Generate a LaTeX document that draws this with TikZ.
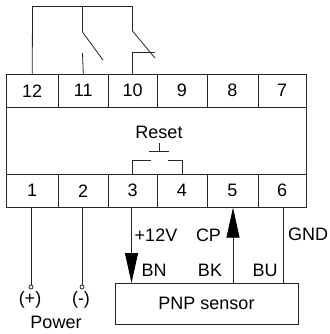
\documentclass[tikz,border=0pt]{standalone}
\usepackage{fontspec}
\setmainfont{Liberation Sans}
\usetikzlibrary{arrows.meta}
\tikzset{
  cell/.style={draw, minimum height=33pt, inner sep=0pt},
  wire/.style={line width=.8pt, draw=black!85},
  label/.style={inner sep=0pt},
  tip/.style={-{Triangle[length=30pt, width=13pt, color=black]}},
  port/.style={draw, circle, fill=white, minimum size=4pt, inner sep=0pt}
}
\begin{document}
\begin{tikzpicture}[x=1pt, y=-1pt, font=\fontsize{18}{20}\selectfont, line width=.8pt, draw=black!85]
  \useasboundingbox (0, 0) rectangle (329, 334);
  \node[cell, minimum width=300pt, minimum height=67pt] (body) at (156.5, 140.5) {};
  \node[cell, minimum width=51.5pt] (t12) at (32.25, 90.75) {12};
  \node[cell, minimum width=50.5pt] (t11) at (83.25, 90.75) {11};
  \node[cell, minimum width=48.5pt] (t10) at (132.75, 90.75) {10};
  \node[cell, minimum width=50pt] (t9) at (182, 90.75) {9};
  \node[cell, minimum width=51pt] (t8) at (232.5, 90.75) {8};
  \node[cell, minimum width=48.5pt] (t7) at (282.25, 90.75) {7};
  \node[cell, minimum width=51.5pt] (t1) at (32.25, 190.75) {1};
  \node[cell, minimum width=50.5pt] (t2) at (83.25, 190.75) {2};
  \node[cell, minimum width=48.5pt] (t3) at (132.75, 190.75) {3};
  \node[cell, minimum width=50pt] (t4) at (182, 190.75) {4};
  \node[cell, minimum width=51pt] (t5) at (232.5, 190.75) {5};
  \node[cell, minimum width=48.5pt] (t6) at (282.25, 190.75) {6};
  \node[cell, minimum width=183pt, minimum height=41.5pt] (sensor) at (206.5, 303.75) {PNP sensor};
  % relay contacts
  \coordinate (rail12) at (32.5, 6.5);
  \coordinate (rail11) at (82.5, 6.5);
  \coordinate (rail10) at (132.5, 6.5);
  \coordinate (hinge11) at (82.5, 32);
  \coordinate (blade11) at (103, 60);
  \coordinate (fixed11) at (82.5, 53);
  \coordinate (hinge10) at (132.5, 31);
  \coordinate (blade10) at (155, 58);
  \coordinate (stop10) at (155, 52.5);
  \draw[wire] (t12.north) -- (rail12) -- (rail10);
  \draw[wire] (rail11) -- (hinge11) -- (blade11);
  \draw[wire] (t11.north) -- (fixed11);
  \draw[wire] (rail10) -- (hinge10) -- (blade10);
  \draw[wire] (t10.north) -- (t10.north |- stop10) -- (stop10);
  % reset button
  \node[label] (reset) at (159, 132) {Reset};
  \coordinate (stem) at (159.3, 143);
  \coordinate (barl) at (149, 151);
  \coordinate (barr) at (169, 151);
  \coordinate (padl) at (151, 160);
  \coordinate (padr) at (167.7, 160);
  \draw[wire] (stem) -- (stem |- barl);
  \draw[wire] (barl) -- (barr);
  \draw[wire] (t3.north) -- (t3.north |- padl) -- (padl);
  \draw[wire] (t4.north) -- (t4.north |- padr) -- (padr);
  % power and sensor leads
  \node[port] (plus) at (31, 287) {};
  \node[port] (minus) at (82, 287) {};
  \coordinate (bn) at (131.5, 283);
  \coordinate (bk) at (233, 283);
  \coordinate (bu) at (283.7, 283);
  \draw[wire] (plus) -- (plus |- t1.south);
  \draw[wire] (minus) -- (minus |- t2.south);
  \draw[wire, tip] (bn |- t3.south) -- (bn);
  \draw[wire, tip] (bk) -- (bk |- t5.south);
  \draw[wire] (bu |- t6.south) -- (bu);
  \node[label] (lplus) at (30, 300) {(+)};
  \node[label] (lminus) at (81, 300) {(-)};
  \node[label] (power) at (56, 322) {Power};
  \node[label] (v12) at (156, 235) {+12V};
  \node[label] (cp) at (208.5, 235) {CP};
  \node[label] (gnd) at (308, 234) {GND};
  \node[label] (lbn) at (154, 270) {BN};
  \node[label] (lbk) at (210, 270) {BK};
  \node[label] (lbu) at (265, 270) {BU};
\end{tikzpicture}
\end{document}
